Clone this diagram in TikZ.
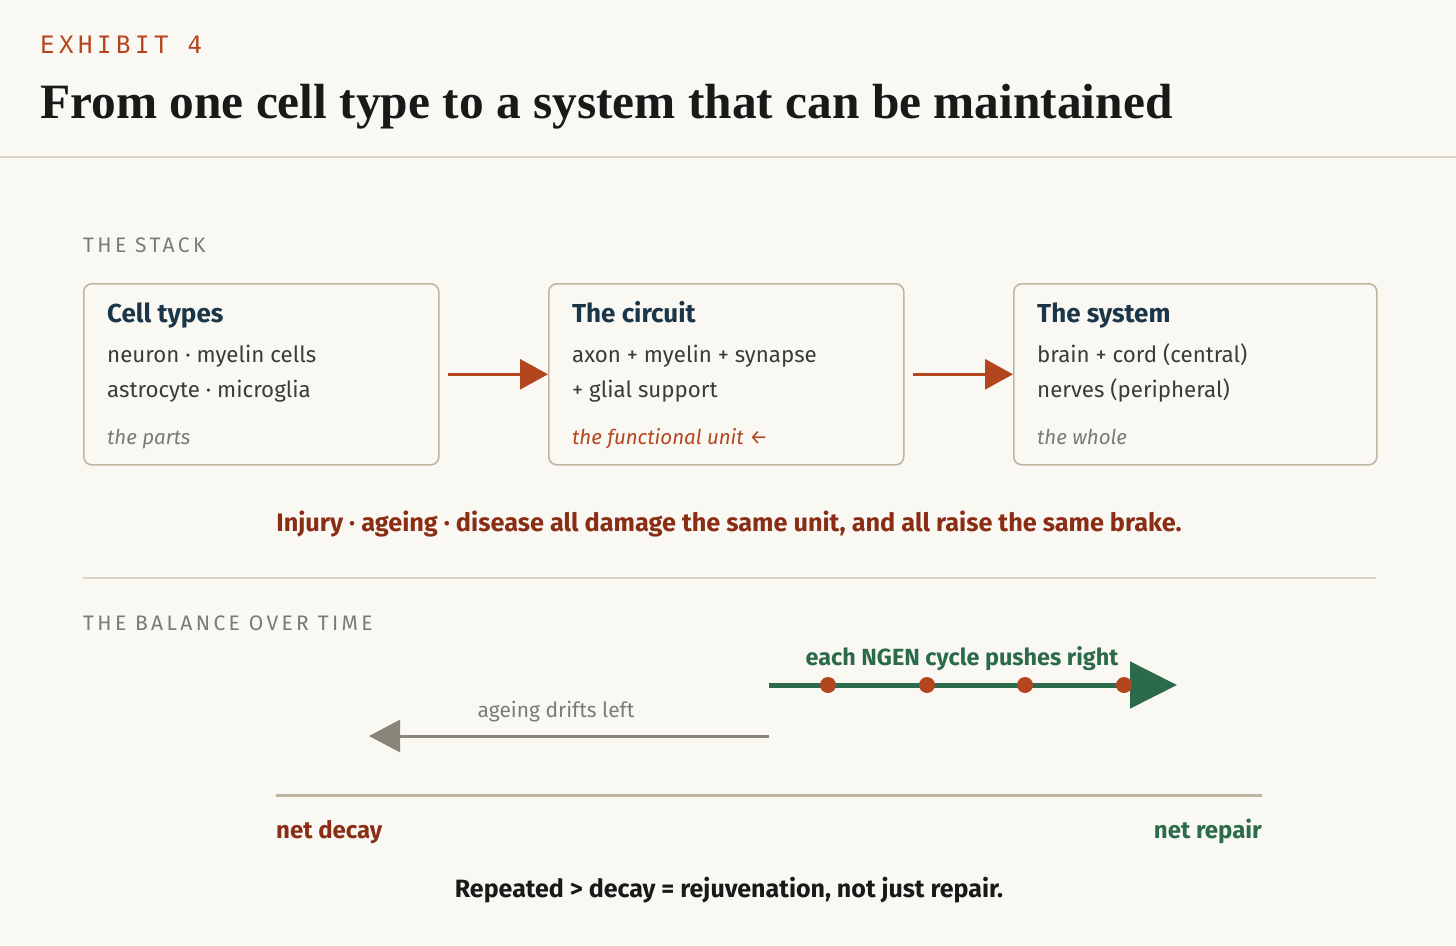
\documentclass[tikz,border=0pt]{standalone}
\usepackage{fontspec}
\usetikzlibrary{arrows.meta,positioning}
\setmainfont{Fira Sans}
\newfontfamily\titlefont{Liberation Serif}
\newfontfamily\exhibitfont{DejaVu Sans Mono}[LetterSpace=19]
\newfontfamily\capsfont{Fira Sans}[LetterSpace=16]

\definecolor{paper}{HTML}{FAF8F3}
\definecolor{rulegray}{HTML}{D6D2C6}
\definecolor{boxedge}{HTML}{BEB6A0}
\definecolor{rust}{HTML}{B4461F}
\definecolor{darkrust}{HTML}{8A2D15}
\definecolor{navy}{HTML}{1B3549}
\definecolor{bodyink}{HTML}{3B3B3B}
\definecolor{softgray}{HTML}{7A7A76}
\definecolor{ngen}{HTML}{2B6A4B}
\definecolor{driftgray}{HTML}{888578}

\tikzset{
  stackbox/.style={draw=boxedge, line width=1.6pt, rounded corners=8pt,
    minimum width=355pt, minimum height=181pt, inner sep=0pt},
  boxhead/.style={anchor=base west, inner sep=0pt, font=\fontsize{26}{30}\selectfont\bfseries, text=navy},
  boxtext/.style={anchor=base west, inner sep=0pt, font=\fontsize{22.3}{26}\selectfont, text=bodyink},
  boxnote/.style={anchor=base west, inner sep=0pt, font=\fontsize{20.5}{24}\selectfont\itshape, text=softgray},
  sectionlabel/.style={anchor=base west, inner sep=0pt, font=\capsfont\fontsize{21}{24}\selectfont, text=softgray},
  stackarrow/.style={draw=rust, line width=3pt, -{Triangle[length=28pt,width=30pt]}, shorten <=8pt},
  dot/.style={circle, fill=rust, minimum size=16pt, inner sep=0pt}
}

\begin{document}
\begin{tikzpicture}[x=1pt, y=-1pt]
  \useasboundingbox (0,0) rectangle (1456,945);
  \fill[paper] (0,0) rectangle (1456,945);

  % header
  \node[anchor=base west, inner sep=0pt, font=\exhibitfont\fontsize{24}{28}\selectfont, text=rust] (exhibit) at (40,53) {EXHIBIT 4};
  \node[anchor=base west, inner sep=0pt, font=\titlefont\fontsize{49.4}{56}\selectfont\bfseries, text=black!90] (title) at (40,118) {From one cell type to a system that can be maintained};
  \draw[rulegray, line width=1.5pt] (0,157) -- (1456,157);

  % the stack
  \node[sectionlabel] (stacklabel) at (83,252) {THE STACK};

  \node[stackbox, anchor=north west] (cells) at (83,283) {};
  \node[stackbox, anchor=north west] (circuit) at (548,283) {};
  \node[stackbox, anchor=north west, minimum width=363pt] (system) at (1013,283) {};

  \node[boxhead] (cellshead) at ([shift={(24,39)}]cells.north west) {Cell types};
  \node[boxtext] (cellsa) at ([shift={(24,79)}]cells.north west) {neuron · myelin cells};
  \node[boxtext] (cellsb) at ([shift={(24,114)}]cells.north west) {astrocyte · microglia};
  \node[boxnote] (cellsnote) at ([shift={(24,161)}]cells.north west) {the parts};

  \node[boxhead] (circuithead) at ([shift={(24,39)}]circuit.north west) {The circuit};
  \node[boxtext] (circuita) at ([shift={(24,79)}]circuit.north west) {axon + myelin + synapse};
  \node[boxtext] (circuitb) at ([shift={(24,114)}]circuit.north west) {+ glial support};
  \node[boxnote, text=rust] (circuitnote) at ([shift={(24,161)}]circuit.north west) {the functional unit ←};

  \node[boxhead] (systemhead) at ([shift={(24,39)}]system.north west) {The system};
  \node[boxtext] (systema) at ([shift={(24,79)}]system.north west) {brain + cord (central)};
  \node[boxtext] (systemb) at ([shift={(24,114)}]system.north west) {nerves (peripheral)};
  \node[boxnote] (systemnote) at ([shift={(24,161)}]system.north west) {the whole};

  \draw[stackarrow] (cells) -- (circuit);
  \draw[stackarrow] (circuit) -- (system);

  \node[anchor=base, inner sep=0pt, font=\fontsize{25.3}{30}\selectfont\bfseries, text=darkrust] (brake) at (729,531) {Injury · ageing · disease all damage the same unit, and all raise the same brake.};
  \draw[rulegray, line width=1.5pt] (83,578) -- (1376,578);

  % the balance over time
  \node[sectionlabel] (balancelabel) at (83,630) {THE BALANCE OVER TIME};

  \coordinate (pushstart) at (769,685);
  \coordinate (pushend) at (1177,685);
  \draw[ngen, line width=5pt, -{Triangle[length=47pt,width=46pt]}] (pushstart) -- (pushend);
  \foreach \x in {828,927,1025,1124}
    \node[dot] at (\x,685) {};
  \node[anchor=base, inner sep=0pt, font=\fontsize{23.4}{28}\selectfont\bfseries, text=ngen] (pushlabel) at (962,665) {each NGEN cycle pushes right};

  \coordinate (driftstart) at (769,736);
  \coordinate (driftend) at (369,736);
  \draw[driftgray, line width=3pt, -{Triangle[length=31pt,width=32pt]}] (driftstart) -- (driftend);
  \node[anchor=base, inner sep=0pt, font=\fontsize{21}{25}\selectfont, text=softgray] (driftlabel) at (556,717) {ageing drifts left};

  \draw[boxedge, line width=3pt] (276,795) -- (1262,795);
  \node[anchor=base west, inner sep=0pt, font=\fontsize{24}{28}\selectfont\bfseries, text=darkrust] (decay) at (276,838) {net decay};
  \node[anchor=base east, inner sep=0pt, font=\fontsize{24}{28}\selectfont\bfseries, text=ngen] (repair) at (1262,838) {net repair};

  \node[anchor=base, inner sep=0pt, font=\fontsize{25}{30}\selectfont\bfseries, text=black!90] (verdict) at (729,897) {Repeated > decay = rejuvenation, not just repair.};
\end{tikzpicture}
\end{document}
